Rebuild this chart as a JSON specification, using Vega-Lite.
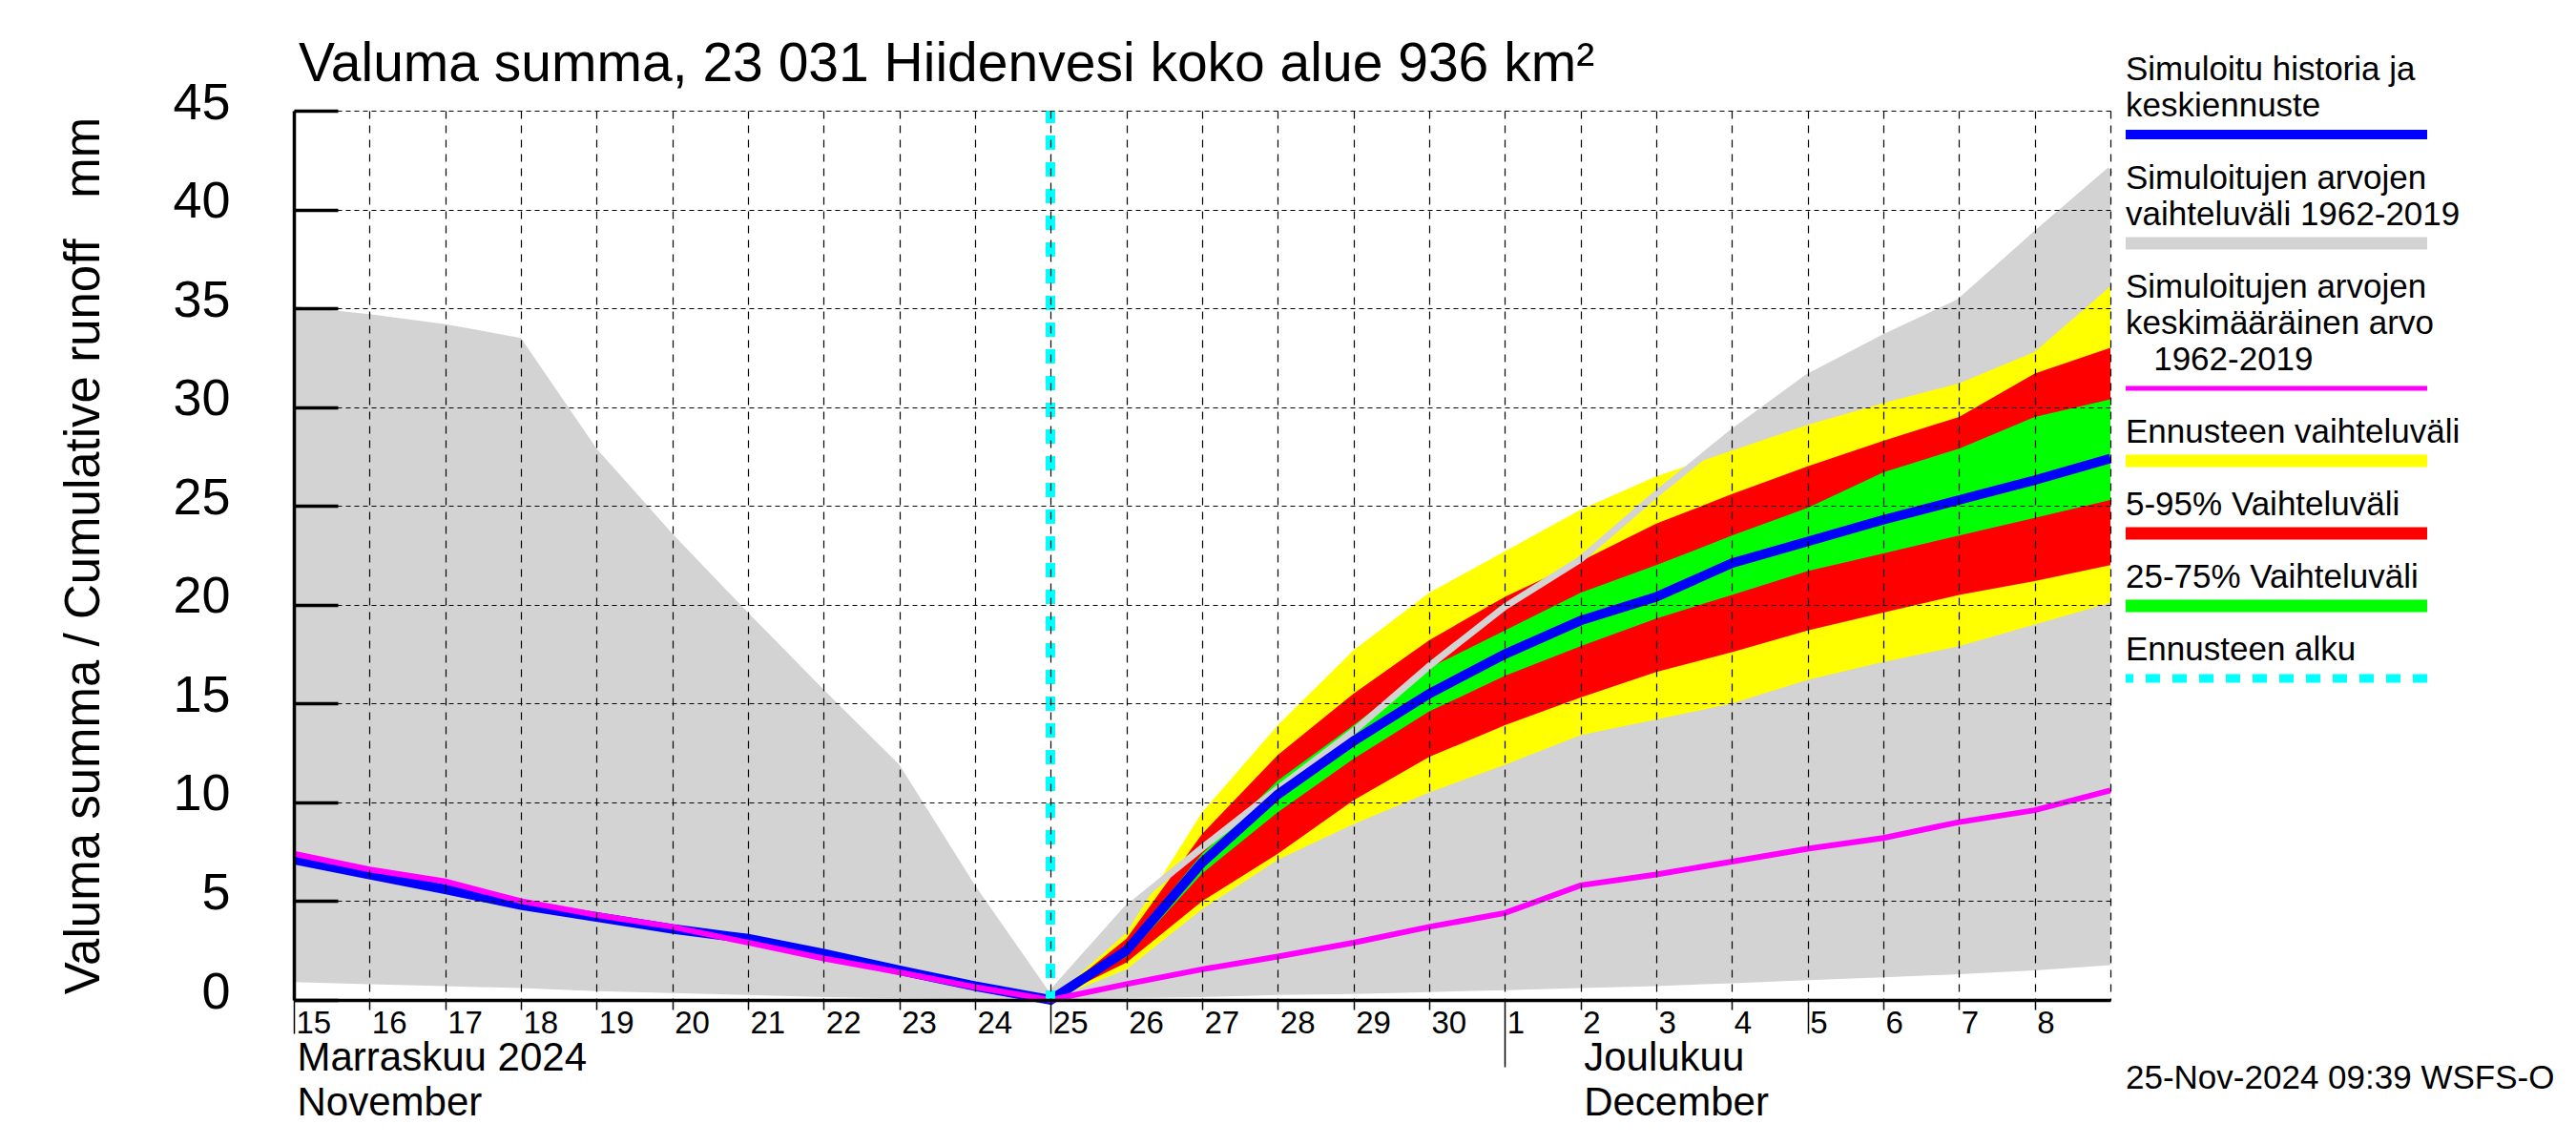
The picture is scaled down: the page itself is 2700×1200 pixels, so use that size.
{
  "$schema": "https://vega.github.io/schema/vega-lite/v6.json",
  "background": "white",
  "padding": {"left": 62, "top": 39, "right": 0, "bottom": 0},
  "config": {
    "view": {"stroke": null},
    "font": "Liberation Sans",
    "axis": {"labelFont": "Liberation Sans", "titleFont": "Liberation Sans", "labelColor": "black", "titleColor": "black", "domainColor": "black", "tickColor": "black"},
    "title": {"font": "Liberation Sans", "color": "black", "fontWeight": "normal"},
    "text": {"font": "Liberation Sans"}
  },
  "bounds": "flush",
  "spacing": 16,
  "hconcat": [
    {
      "width": 1904,
      "height": 932,
      "title": {"text": "Valuma summa, 23 031 Hiidenvesi koko alue 936 km²", "anchor": "start", "frame": "group", "fontSize": 57, "fontWeight": "normal", "baseline": "alphabetic", "offset": 28, "dx": 5, "dy": 89},
      "data": {"values": [
        {"d": "2024-11-15", "hmin": 0.9, "hmax": 35.1, "mean": 7.4, "sim": 7.1},
        {"d": "2024-11-16", "hmin": 0.8, "hmax": 34.7, "mean": 6.6, "sim": 6.35},
        {"d": "2024-11-17", "hmin": 0.7, "hmax": 34.2, "mean": 6.0, "sim": 5.6},
        {"d": "2024-11-18", "hmin": 0.6, "hmax": 33.5, "mean": 5.0, "sim": 4.8},
        {"d": "2024-11-19", "hmin": 0.45, "hmax": 27.9, "mean": 4.3, "sim": 4.2},
        {"d": "2024-11-20", "hmin": 0.35, "hmax": 23.6, "mean": 3.7, "sim": 3.6},
        {"d": "2024-11-21", "hmin": 0.25, "hmax": 19.6, "mean": 2.9, "sim": 3.1},
        {"d": "2024-11-22", "hmin": 0.15, "hmax": 15.7, "mean": 2.1, "sim": 2.35},
        {"d": "2024-11-23", "hmin": 0.08, "hmax": 11.9, "mean": 1.4, "sim": 1.5},
        {"d": "2024-11-24", "hmin": 0.03, "hmax": 5.8, "mean": 0.65, "sim": 0.7},
        {"d": "2024-11-25", "hmin": 0, "hmax": 0.3, "mean": 0, "sim": 0, "fmin": 0, "p05": 0, "p25": 0, "p75": 0, "p95": 0, "fmax": 0},
        {"d": "2024-11-26", "hmin": 0.1, "hmax": 4.6, "mean": 0.8, "sim": 2.5, "fmin": 1.55, "p05": 1.9, "p25": 2.2, "p75": 2.75, "p95": 3.1, "fmax": 3.4},
        {"d": "2024-11-27", "hmin": 0.15, "hmax": 7.7, "mean": 1.55, "sim": 6.95, "fmin": 4.6, "p05": 5.0, "p25": 6.4, "p75": 7.4, "p95": 8.4, "fmax": 9.5},
        {"d": "2024-11-28", "hmin": 0.25, "hmax": 10.7, "mean": 2.2, "sim": 10.4, "fmin": 7.1, "p05": 7.4, "p25": 9.5, "p75": 11.1, "p95": 12.4, "fmax": 13.9},
        {"d": "2024-11-29", "hmin": 0.3, "hmax": 13.6, "mean": 2.9, "sim": 13.1, "fmin": 8.9, "p05": 10.1, "p25": 12.2, "p75": 13.9, "p95": 15.5, "fmax": 17.7},
        {"d": "2024-11-30", "hmin": 0.4, "hmax": 16.9, "mean": 3.7, "sim": 15.5, "fmin": 10.5, "p05": 12.3, "p25": 14.6, "p75": 16.8, "p95": 18.2, "fmax": 20.6},
        {"d": "2024-12-01", "hmin": 0.5, "hmax": 19.9, "mean": 4.4, "sim": 17.5, "fmin": 11.9, "p05": 13.9, "p25": 16.4, "p75": 18.7, "p95": 20.4, "fmax": 22.7},
        {"d": "2024-12-02", "hmin": 0.6, "hmax": 22.3, "mean": 5.8, "sim": 19.2, "fmin": 13.4, "p05": 15.3, "p25": 17.9, "p75": 20.6, "p95": 22.2, "fmax": 24.8},
        {"d": "2024-12-03", "hmin": 0.7, "hmax": 25.6, "mean": 6.35, "sim": 20.4, "fmin": 14.2, "p05": 16.6, "p25": 19.3, "p75": 22.0, "p95": 24.1, "fmax": 26.5},
        {"d": "2024-12-04", "hmin": 0.85, "hmax": 28.7, "mean": 7.0, "sim": 22.1, "fmin": 15.0, "p05": 17.6, "p25": 20.5, "p75": 23.5, "p95": 25.6, "fmax": 27.8},
        {"d": "2024-12-05", "hmin": 1.0, "hmax": 31.5, "mean": 7.65, "sim": 23.2, "fmin": 16.2, "p05": 18.7, "p25": 21.7, "p75": 24.9, "p95": 27.0, "fmax": 29.1},
        {"d": "2024-12-06", "hmin": 1.15, "hmax": 33.5, "mean": 8.2, "sim": 24.3, "fmin": 17.1, "p05": 19.6, "p25": 22.6, "p75": 26.7, "p95": 28.3, "fmax": 30.2},
        {"d": "2024-12-07", "hmin": 1.3, "hmax": 35.3, "mean": 9.0, "sim": 25.3, "fmin": 17.9, "p05": 20.5, "p25": 23.5, "p75": 27.9, "p95": 29.5, "fmax": 31.2},
        {"d": "2024-12-08", "hmin": 1.5, "hmax": 38.7, "mean": 9.6, "sim": 26.3, "fmin": 19.0, "p05": 21.2, "p25": 24.4, "p75": 29.5, "p95": 31.7, "fmax": 32.8},
        {"d": "2024-12-09", "hmin": 1.76, "hmax": 42.0, "mean": 10.6, "sim": 27.4, "fmin": 20.1, "p05": 22.0, "p25": 25.3, "p75": 30.4, "p95": 33.0, "fmax": 36.1}
      ]},
      "resolve": {"axis": {"x": "independent", "y": "independent"}},
      "layer": [
        {
          "mark": {"type": "area", "color": "#d3d3d3"},
          "encoding": {
            "x": {"field": "d", "type": "temporal",
              "scale": {"type": "utc", "domain": [{"year": 2024, "month": 11, "date": 15, "utc": true}, {"year": 2024, "month": 12, "date": 9, "utc": true}]},
              "axis": {
                "orient": "bottom",
                "values": [
                  {"year": 2024, "month": 11, "date": 15, "utc": true}, {"year": 2024, "month": 11, "date": 16, "utc": true},
                  {"year": 2024, "month": 11, "date": 17, "utc": true}, {"year": 2024, "month": 11, "date": 18, "utc": true},
                  {"year": 2024, "month": 11, "date": 19, "utc": true}, {"year": 2024, "month": 11, "date": 20, "utc": true},
                  {"year": 2024, "month": 11, "date": 21, "utc": true}, {"year": 2024, "month": 11, "date": 22, "utc": true},
                  {"year": 2024, "month": 11, "date": 23, "utc": true}, {"year": 2024, "month": 11, "date": 24, "utc": true},
                  {"year": 2024, "month": 11, "date": 25, "utc": true}, {"year": 2024, "month": 11, "date": 26, "utc": true},
                  {"year": 2024, "month": 11, "date": 27, "utc": true}, {"year": 2024, "month": 11, "date": 28, "utc": true},
                  {"year": 2024, "month": 11, "date": 29, "utc": true}, {"year": 2024, "month": 11, "date": 30, "utc": true},
                  {"year": 2024, "month": 12, "date": 1, "utc": true}, {"year": 2024, "month": 12, "date": 2, "utc": true},
                  {"year": 2024, "month": 12, "date": 3, "utc": true}, {"year": 2024, "month": 12, "date": 4, "utc": true},
                  {"year": 2024, "month": 12, "date": 5, "utc": true}, {"year": 2024, "month": 12, "date": 6, "utc": true},
                  {"year": 2024, "month": 12, "date": 7, "utc": true}, {"year": 2024, "month": 12, "date": 8, "utc": true},
                  {"year": 2024, "month": 12, "date": 9, "utc": true}
                ],
                "labelExpr": "(utcmonth(datum.value) == 11 && utcdate(datum.value) == 9) ? '' : '' + utcdate(datum.value)",
                "labelAlign": "left",
                "labelBaseline": "top",
                "labelFontSize": 33,
                "labelOffset": 2,
                "labelFlush": false,
                "labelOverlap": false,
                "labelPadding": {"condition": [
                  {"test": "utcmonth(datum.value) == 11 && utcdate(datum.value) == 1", "value": -62},
                  {"test": "(utcmonth(datum.value) == 10 && (utcdate(datum.value) == 15 || utcdate(datum.value) == 25)) || (utcmonth(datum.value) == 11 && utcdate(datum.value) == 5)", "value": -27}
                ], "value": -2},
                "tickSize": {"condition": [
                  {"test": "utcmonth(datum.value) == 11 && utcdate(datum.value) == 1", "value": 70},
                  {"test": "(utcmonth(datum.value) == 10 && (utcdate(datum.value) == 15 || utcdate(datum.value) == 25)) || (utcmonth(datum.value) == 11 && utcdate(datum.value) == 5)", "value": 35},
                  {"test": "utcmonth(datum.value) == 11 && utcdate(datum.value) == 9", "value": 0}
                ], "value": 10},
                "tickWidth": 1.5,
                "grid": true,
                "gridColor": "black",
                "gridDash": [8, 7],
                "gridWidth": 1.2,
                "domainWidth": 3.5,
                "title": null,
                "zindex": 1
              }
            },
            "y": {"field": "hmax", "type": "quantitative",
              "scale": {"domain": [0, 45], "nice": false, "zero": false},
              "axis": {
                "values": [0, 5, 10, 15, 20, 25, 30, 35, 40, 45],
                "grid": true,
                "gridColor": "black",
                "gridDash": [5, 4],
                "gridWidth": 1.2,
                "tickSize": -46,
                "tickWidth": 3.5,
                "domainWidth": 3.5,
                "labelFontSize": 54,
                "labelPadding": 113,
                "labelBaseline": "middle",
                "labelOffset": -8,
                "labelFlush": false,
                "title": "Valuma summa / Cumulative runoff\u00a0\u00a0\u00a0mm",
                "titleFontSize": 51,
                "titleFontWeight": "normal",
                "titlePadding": 66,
                "zindex": 1
              }
            },
            "y2": {"field": "hmin"}
          }
        },
        {
          "transform": [{"filter": "isValid(datum.fmin)"}],
          "mark": {"type": "area", "color": "#ffff00"},
          "encoding": {
            "x": {"field": "d", "type": "temporal", "axis": null},
            "y": {"field": "fmax", "type": "quantitative", "axis": null},
            "y2": {"field": "fmin"}
          }
        },
        {
          "transform": [{"filter": "isValid(datum.fmin)"}],
          "mark": {"type": "area", "color": "#ff0000"},
          "encoding": {
            "x": {"field": "d", "type": "temporal", "axis": null},
            "y": {"field": "p95", "type": "quantitative", "axis": null},
            "y2": {"field": "p05"}
          }
        },
        {
          "transform": [{"filter": "isValid(datum.fmin)"}],
          "mark": {"type": "area", "color": "#00ff00"},
          "encoding": {
            "x": {"field": "d", "type": "temporal", "axis": null},
            "y": {"field": "p75", "type": "quantitative", "axis": null},
            "y2": {"field": "p25"}
          }
        },
        {
          "transform": [{"filter": "isValid(datum.fmin)"}],
          "mark": {"type": "line", "color": "#d3d3d3", "strokeWidth": 7},
          "encoding": {
            "x": {"field": "d", "type": "temporal", "axis": null},
            "y": {"field": "hmax", "type": "quantitative", "axis": null}
          }
        },
        {
          "mark": {"type": "line", "color": "#0000ff", "strokeWidth": 10},
          "encoding": {
            "x": {"field": "d", "type": "temporal", "axis": null},
            "y": {"field": "sim", "type": "quantitative", "axis": null}
          }
        },
        {
          "mark": {"type": "line", "color": "#ff00ff", "strokeWidth": 6},
          "encoding": {
            "x": {"field": "d", "type": "temporal",
              "axis": {
                "orient": "bottom",
                "values": [{"year": 2024, "month": 11, "date": 15, "utc": true}, {"year": 2024, "month": 12, "date": 2, "utc": true}],
                "labelExpr": "utcmonth(datum.value) == 10 ? ['Marraskuu 2024', 'November'] : ['Joulukuu', 'December']",
                "ticks": false,
                "domain": false,
                "grid": false,
                "labelAlign": "left",
                "labelBaseline": "top",
                "labelFontSize": 42,
                "labelLineHeight": 47,
                "labelPadding": 40,
                "labelOffset": 3,
                "labelLimit": 0,
                "labelFlush": false,
                "labelOverlap": false,
                "title": null
              }
            },
            "y": {"field": "mean", "type": "quantitative", "axis": null}
          }
        },
        {
          "mark": {"type": "rule", "color": "#00ffff", "strokeWidth": 9, "strokeDash": [15, 13], "strokeDashOffset": 2},
          "encoding": {
            "x": {"datum": {"year": 2024, "month": 11, "date": 25, "utc": true}, "type": "temporal", "axis": null}
          }
        }
      ]
    },
    {
      "width": 316,
      "height": 646,
      "title": {"text": "25-Nov-2024 09:39 WSFS-O", "orient": "bottom", "anchor": "start", "frame": "group", "fontSize": 35, "fontWeight": "normal", "baseline": "alphabetic", "offset": 379},
      "data": {"values": [
        {"row": "r01", "kind": "text", "label": "Simuloitu historia ja"},
        {"row": "r02", "kind": "text", "label": "keskiennuste"},
        {"row": "r03", "kind": "bar", "series": "hist"},
        {"row": "r04", "kind": "text", "label": "Simuloitujen arvojen"},
        {"row": "r05", "kind": "text", "label": "vaihteluväli 1962-2019"},
        {"row": "r06", "kind": "bar", "series": "range"},
        {"row": "r07", "kind": "text", "label": "Simuloitujen arvojen"},
        {"row": "r08", "kind": "text", "label": "keskimääräinen arvo"},
        {"row": "r09", "kind": "text", "label": "\u200b\u00a0\u00a0\u00a01962-2019"},
        {"row": "r10", "kind": "bar", "series": "mean"},
        {"row": "r11", "kind": "text", "label": "Ennusteen vaihteluväli"},
        {"row": "r12", "kind": "bar", "series": "fc"},
        {"row": "r13", "kind": "text", "label": "5-95% Vaihteluväli"},
        {"row": "r14", "kind": "bar", "series": "p595"},
        {"row": "r15", "kind": "text", "label": "25-75% Vaihteluväli"},
        {"row": "r16", "kind": "bar", "series": "p2575"},
        {"row": "r17", "kind": "text", "label": "Ennusteen alku"},
        {"row": "r18", "kind": "bar", "series": "start"}
      ]},
      "layer": [
        {
          "transform": [{"filter": "datum.kind == 'text'"}],
          "mark": {"type": "text", "align": "left", "baseline": "alphabetic", "fontSize": 35, "yOffset": -32, "color": "black", "font": "Liberation Sans"},
          "encoding": {
            "x": {"datum": 0, "type": "quantitative", "scale": {"domain": [0, 1]}, "axis": null},
            "y": {"field": "row", "type": "ordinal", "scale": {"type": "point", "padding": 0, "domain": ["r01","r02","r03","r04","r05","r06","r07","r08","r09","r10","r11","r12","r13","r14","r15","r16","r17","r18"]}, "axis": null},
            "text": {"field": "label"}
          }
        },
        {
          "transform": [{"filter": "datum.kind == 'bar'"}],
          "mark": {"type": "rule", "yOffset": -51},
          "encoding": {
            "y": {"field": "row", "type": "ordinal", "axis": null},
            "color": {"field": "series", "type": "nominal", "legend": null,
              "scale": {"domain": ["hist", "range", "mean", "fc", "p595", "p2575", "start"], "range": ["#0000ff", "#d3d3d3", "#ff00ff", "#ffff00", "#ff0000", "#00ff00", "#00ffff"]}},
            "strokeWidth": {"condition": [
              {"test": "datum.series == 'hist'", "value": 10},
              {"test": "datum.series == 'mean'", "value": 5},
              {"test": "datum.series == 'start'", "value": 9}
            ], "value": 13},
            "strokeDash": {"condition": {"test": "datum.series == 'start'", "value": [15, 13]}, "value": [1, 0]}
          }
        }
      ]
    }
  ]
}
